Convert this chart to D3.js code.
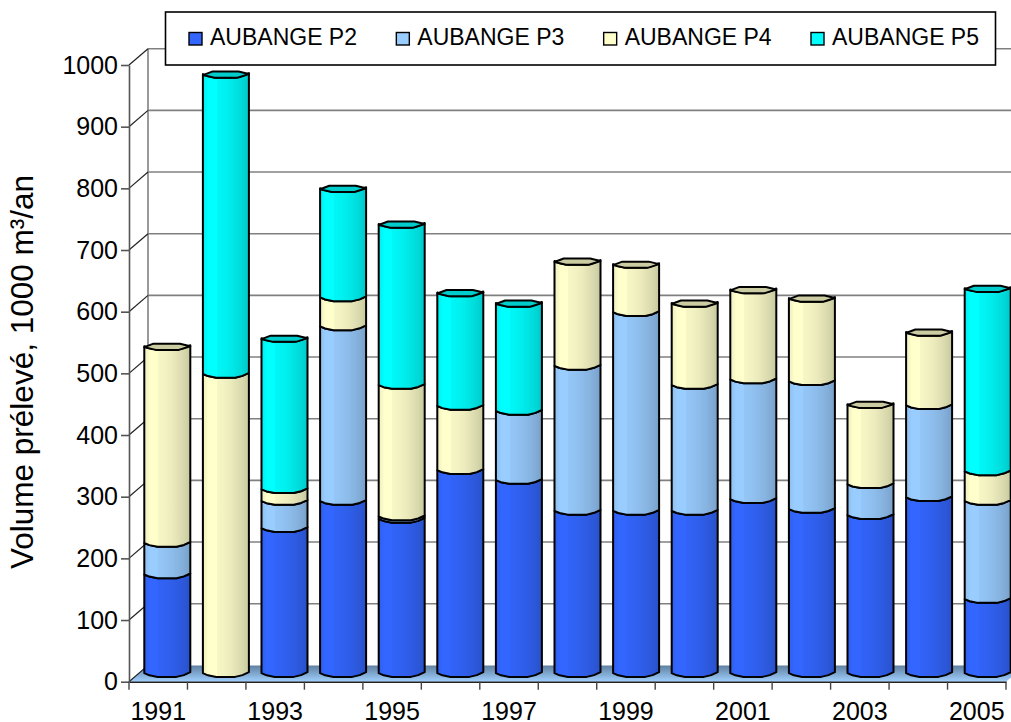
<!DOCTYPE html>
<html><head><meta charset="utf-8">
<script src="https://cdn.jsdelivr.net/npm/d3@7"></script>
<style>html,body{margin:0;padding:0;background:#fff}svg{display:block;font-family:"Liberation Sans",Arial,sans-serif}</style>
</head><body><div id="chart"></div>
<script>
const years = [1991,1992,1993,1994,1995,1996,1997,1998,1999,2000,2001,2002,2003,2004,2005];
const labelYears = [1991,1993,1995,1997,1999,2001,2003,2005];
const yTicks = [0,100,200,300,400,500,600,700,800,900,1000];
const seriesNames = ["AUBANGE P2","AUBANGE P3","AUBANGE P4","AUBANGE P5"];
const p2 = [160,0,235,279,250,329,313,263,263,263,282,266,256,285,120];
const p3 = [51,0,44,283,4,0,112,235,322,204,194,207,50,149,159];
const p4 = [319,485,19,47,213,104,0,170,78,133,146,135,130,119,48];
const p5 = [0,486,245,177,261,184,175,0,0,0,0,0,0,0,297];
const palette = ["#3366ff","#99ccff","#ffffcc","#00ffff"];

const W=1011,H=722, xL=129, xR=1006, yB=681.7, yT=65, dx=19, dy=16.3;
const svg=d3.select("#chart").append("svg").attr("width",W).attr("height",H);
const defs=svg.append("defs");
const yFront=d3.scaleLinear().domain([0,1000]).range([yB,yT]);
const yBar=d3.scaleLinear().domain([0,1000]).range([yB-8,yT-8.3]);
const xFront=d3.scaleBand().domain(years).range([xL,xR]);
const xBar=d3.scaleBand().domain(years).range([xL+9,xR+11]).paddingInner(0.215).paddingOuter(0.1075);

// gradients
const bandStops=[[0,.93],[.12,1],[.3,1],[.3,.97],[.45,.95],[.6,.92],[.75,.88],[.88,.84],[1,.78]];
palette.forEach((c,i)=>{
  const g=defs.append("linearGradient").attr("id","bar"+i);
  bandStops.forEach(s=>{
    const col=d3.rgb(c);
    g.append("stop").attr("offset",s[0]).attr("stop-color",d3.rgb(col.r*s[1],col.g*s[1],col.b*s[1]));
  });
});
const fg=defs.append("linearGradient").attr("id","floor").attr("x1",0).attr("x2",0).attr("y1",0).attr("y2",1);
fg.append("stop").attr("offset",0).attr("stop-color","#5f7f9f");
fg.append("stop").attr("offset",1).attr("stop-color","#a0d0ff");

// floor
svg.append("path").attr("fill","url(#floor)")
  .attr("d",d3.line()([[xL,yB],[xL+dx,yB-dy],[xR+dx,yB-dy],[xR,yB]]));

// walls and gridlines
const grid=svg.append("g");
grid.selectAll("line.h").data(yTicks.slice(1)).join("line").attr("class","h")
  .attr("x1",xL+dx).attr("x2",W).attr("y1",d=>yFront(d)-dy).attr("y2",d=>yFront(d)-dy)
  .attr("stroke","#808080").attr("stroke-width",1.6);
grid.append("line").attr("x1",xL+dx).attr("x2",xL+dx).attr("y1",yFront(1000)-dy).attr("y2",yFront(0)-dy)
  .attr("stroke","#808080").attr("stroke-width",1.6);
grid.selectAll("line.d").data(yTicks).join("line").attr("class","d")
  .attr("x1",xL).attr("x2",xL+dx).attr("y1",d=>yFront(d)).attr("y2",d=>yFront(d)-dy)
  .attr("stroke","#222").attr("stroke-width",1.2);

// axes
const yAxis=svg.append("g").attr("transform",`translate(${xL},0)`)
  .call(d3.axisLeft(yFront).tickValues(yTicks).tickFormat(d3.format("d")).tickSize(8).tickPadding(3).tickSizeOuter(0));
yAxis.selectAll("text").attr("font-size",25).attr("fill","#000").attr("font-family","Liberation Sans");
yAxis.selectAll("line").attr("stroke","#555").attr("stroke-width",1.6);
yAxis.select(".domain").attr("stroke","#555").attr("stroke-width",1.6);

const xAxis=svg.append("g").attr("transform",`translate(0,${yB})`)
  .call(d3.axisBottom(xFront).tickValues(labelYears).tickSize(0).tickPadding(20.5));
xAxis.select(".domain").attr("stroke","#222").attr("stroke-width",1.4);
xAxis.selectAll("text").attr("font-size",25).attr("fill","#000").attr("font-family","Liberation Sans");
svg.append("g").selectAll("line").data(years.concat([null])).join("line")
  .attr("x1",d=>d===null?xR:xFront(d)).attr("x2",d=>d===null?xR:xFront(d))
  .attr("y1",yB).attr("y2",yB+8).attr("stroke","#444").attr("stroke-width",1.4);

// bars
const rows=[p2,p3,p4,p5];
const hw=()=>xBar.bandwidth()/2;
function arc(cx,y,reverse){
  const h=hw();
  const pts=[[cx-h,y-.5],[cx-.78*h,y+1.6],[cx-.42*h,y+3.2],[cx+.4*h,y+3.2],[cx+.72*h,y+1.4],[cx+h,y-1.5]];
  return reverse?pts.reverse():pts;
}
const barsG=svg.append("g");
years.forEach((yr,i)=>{
  const cx=xBar(yr)+xBar.bandwidth()/2;
  let cum=0; let lastIdx=-1;
  rows.forEach((r,s)=>{ if(r[i]>0) lastIdx=s; });
  rows.forEach((r,s)=>{
    const v=r[i]; if(!v) return;
    const y0=yBar(cum), y1=yBar(cum+v); cum+=v;
    const pts=arc(cx,y0).concat(arc(cx,y1,true));
    barsG.append("path").attr("d",d3.line()(pts)+"Z").attr("fill",`url(#bar${s})`)
      .attr("stroke","#000").attr("stroke-width",2).attr("stroke-linejoin","round");
    if(s===lastIdx){
      const h=hw();
      const cap=[[cx-h,y1+.5],[cx-.6*h,y1-3],[cx+.55*h,y1-3],[cx+h,y1-.5],[cx+.5*h,y1+3.2],[cx-.5*h,y1+3.2]];
      const c=d3.rgb(palette[s]);
      barsG.append("path").attr("d",d3.line()(cap)+"Z")
        .attr("fill",d3.rgb(c.r*.8,c.g*.8,c.b*.8)).attr("stroke","#000").attr("stroke-width",2).attr("stroke-linejoin","round");
    }
  });
});

// y title
svg.append("text").attr("transform","translate(33,372) rotate(-90)").attr("text-anchor","middle")
  .attr("font-size",31.5).attr("fill","#000").text("Volume prélevé, 1000 m³/an");

// legend
const lg=svg.append("g");
lg.append("rect").attr("x",165.5).attr("y",12).attr("width",830).attr("height",53)
  .attr("fill","#fff").attr("stroke","#000").attr("stroke-width",1.6);
const legendX=d3.scalePoint().domain(seriesNames).range([189,811]);
seriesNames.forEach((n,i)=>{
  lg.append("rect").attr("x",legendX(n)).attr("y",32.5).attr("width",13).attr("height",12.5)
    .attr("fill",palette[i]).attr("stroke","#000").attr("stroke-width",1.4);
  lg.append("text").attr("x",legendX(n)+21).attr("y",45).attr("font-size",23).attr("fill","#000").text(n);
});
</script></body></html>
